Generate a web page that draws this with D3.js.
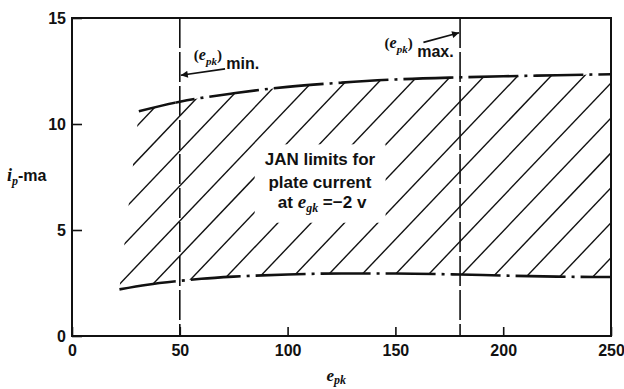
<!DOCTYPE html>
<html><head><meta charset="utf-8">
<script src="https://cdn.jsdelivr.net/npm/d3@7"></script>
<style>body{margin:0;background:#fff}svg{display:block}</style>
</head><body><svg id="c" width="624" height="389"></svg>
<script>
// ---- data ----
const xTicks = [0, 50, 100, 150, 200, 250];
const yTicks = [0, 5, 10, 15];
const upperX = [31, 50, 75, 100, 125, 150, 180, 200, 225, 250];
const upperY = [10.6, 11.05, 11.45, 11.75, 11.95, 12.1, 12.2, 12.25, 12.3, 12.35];
const lowerX = [22, 35, 50, 60, 75, 100, 125, 150, 180, 200, 225, 250];
const lowerY = [2.2, 2.42, 2.6, 2.7, 2.8, 2.9, 2.95, 2.95, 2.9, 2.85, 2.8, 2.78];
const limitX = [50, 180];          // (e_pk) min. and (e_pk) max.
const solidUntil = 48;             // curves are solid left of this e_pk
const hatchAnchor = 134;           // e_pk where one hatch line crosses the lower curve
const hatchStep = 15.45;           // hatch spacing in e_pk units

const svg = d3.select("#c");
const x = d3.scaleLinear([0, 250], [72, 611]);
const y = d3.scaleLinear([0, 15], [336, 18]);
const ink = "#111";
const sans = "'Liberation Sans', Arial, sans-serif";
const serif = "'Liberation Serif', 'Times New Roman', serif";

const upper = upperX.map((v, i) => [v, upperY[i]]);
const lower = lowerX.map((v, i) => [v, lowerY[i]]);
const line = d3.line().x(d => x(d[0])).y(d => y(d[1])).curve(d3.curveMonotoneX);

const defs = svg.append("defs");
// region between the curves
const regionPath = line(lower) + line(upper.slice().reverse()).replace(/^M/, "L") + "Z";
defs.append("clipPath").attr("id", "region").append("path").attr("d", regionPath);
defs.append("clipPath").attr("id", "leftPart").append("rect")
  .attr("x", 0).attr("y", 0).attr("width", x(solidUntil)).attr("height", 389);
defs.append("clipPath").attr("id", "rightPart").append("rect")
  .attr("x", x(solidUntil)).attr("y", 0).attr("width", 624 - x(solidUntil)).attr("height", 389);
defs.append("marker").attr("id", "arr").attr("viewBox", "0 0 10 10")
  .attr("refX", 10).attr("refY", 5).attr("markerWidth", 9).attr("markerHeight", 7)
  .attr("markerUnits", "userSpaceOnUse").attr("orient", "auto")
  .append("path").attr("d", "M0,0L10,5L0,10Z").attr("fill", ink);

// ---- hatching ----
const hatchG = svg.append("g").attr("clip-path", "url(#region)");
const hatchXs = d3.range(-12, 12).map(k => hatchAnchor + k * hatchStep);
hatchG.selectAll("line").data(hatchXs).join("line")
  .attr("x1", d => x(d) - 200).attr("y1", y(2.85) + 200 * 1.05)
  .attr("x2", d => x(d) + 400).attr("y2", y(2.85) - 400 * 1.05)
  .attr("stroke", ink).attr("stroke-width", 1.4);

// ---- label block with white background ----
const lab = svg.append("g");
const lt = lab.append("text").attr("font-family", sans).attr("font-weight", "bold")
  .attr("font-size", 17).attr("fill", ink).attr("text-anchor", "middle");
lt.append("tspan").attr("x", x(115)).attr("y", y(8.05)).text("JAN limits for");
lt.append("tspan").attr("x", x(115)).attr("y", y(7.0)).text("plate current");
const l3 = lt.append("tspan").attr("x", x(116)).attr("y", y(6.05));
l3.append("tspan").text("at ");
l3.append("tspan").attr("font-family", serif).attr("font-style", "italic").attr("font-size", 19).text("e");
l3.append("tspan").attr("font-family", serif).attr("font-style", "italic").attr("font-size", 12).attr("dy", 4).text("gk");
l3.append("tspan").attr("dy", -4).text(" =\u22122 v");
const bb = lt.node().getBBox();
lab.insert("rect", "text").attr("x", bb.x - 10).attr("y", bb.y - 6)
  .attr("width", bb.width + 20).attr("height", bb.height + 14).attr("fill", "#fff");

// ---- limit lines ----
svg.selectAll(".lim").data(limitX).join("line").attr("class", "lim")
  .attr("x1", d => x(d)).attr("x2", d => x(d)).attr("y1", y(15)).attr("y2", y(0))
  .attr("stroke", ink).attr("stroke-width", 1.6).attr("stroke-dasharray", "30,4");

// ---- curves ----
[upper, lower].forEach(c => {
  svg.append("path").attr("d", line(c)).attr("fill", "none").attr("stroke", ink)
    .attr("stroke-width", 2.6).attr("clip-path", "url(#leftPart)");
  svg.append("path").attr("d", line(c)).attr("fill", "none").attr("stroke", ink)
    .attr("stroke-width", 2.6).attr("stroke-dasharray", "50,6,3,6")
    .attr("stroke-dashoffset", 58).attr("clip-path", "url(#rightPart)");
});

// ---- frame and axes ----
svg.append("rect").attr("x", x(0)).attr("y", y(15)).attr("width", x(250) - x(0))
  .attr("height", y(0) - y(15)).attr("fill", "none").attr("stroke", ink).attr("stroke-width", 2);
const ax = svg.append("g").attr("transform", `translate(0,${y(0)})`)
  .call(d3.axisBottom(x).tickValues(xTicks).tickSizeInner(-9).tickSizeOuter(0).tickPadding(9));
const ay = svg.append("g").attr("transform", `translate(${x(0)},0)`)
  .call(d3.axisLeft(y).tickValues(yTicks).tickSizeInner(-10).tickSizeOuter(0).tickPadding(6));
[ax, ay].forEach(g => {
  g.select(".domain").remove();
  g.selectAll("line").attr("stroke", ink).attr("stroke-width", 1.6);
  g.selectAll("text").attr("font-family", sans).attr("font-weight", "bold")
    .attr("font-size", 16).attr("fill", ink);
});

// ---- axis titles ----
const yt = svg.append("text").attr("x", 7).attr("y", 181).attr("fill", ink)
  .attr("font-family", sans).attr("font-weight", "bold").attr("font-size", 16);
yt.append("tspan").attr("font-family", serif).attr("font-style", "italic").attr("font-size", 18).text("i");
yt.append("tspan").attr("font-family", serif).attr("font-style", "italic").attr("font-size", 12).attr("dy", 4).text("p");
yt.append("tspan").attr("dy", -4).text("-ma");
const xt = svg.append("text").attr("x", x(118)).attr("y", 381).attr("fill", ink)
  .attr("font-family", serif).attr("font-style", "italic").attr("font-weight", "bold");
xt.append("tspan").attr("font-size", 17).text("e");
xt.append("tspan").attr("font-size", 12).attr("dy", 3).text("pk");

// ---- annotations ----
function epkLabel(px, py, word) {
  const t = svg.append("text").attr("x", px).attr("y", py).attr("fill", ink)
    .attr("font-family", serif).attr("font-weight", "bold");
  t.append("tspan").attr("font-size", 15).text("(");
  t.append("tspan").attr("font-style", "italic").attr("font-size", 16).text("e");
  t.append("tspan").attr("font-style", "italic").attr("font-size", 11).attr("dy", 5).text("pk");
  t.append("tspan").attr("font-size", 15).attr("dy", -5).text(")");
  t.append("tspan").attr("font-family", sans).attr("font-size", 16).attr("dy", 9).text(" " + word);
}
epkLabel(x(56.5), y(13.0), "min.");
epkLabel(x(145), y(13.6), "max.");
svg.append("line").attr("x1", x(71)).attr("y1", y(12.6)).attr("x2", x(50) + 1).attr("y2", y(12.3))
  .attr("stroke", ink).attr("stroke-width", 1.6).attr("marker-end", "url(#arr)");
svg.append("line").attr("x1", x(163)).attr("y1", y(13.85)).attr("x2", x(180) - 1).attr("y2", y(14.3))
  .attr("stroke", ink).attr("stroke-width", 1.6).attr("marker-end", "url(#arr)");
</script></body></html>
